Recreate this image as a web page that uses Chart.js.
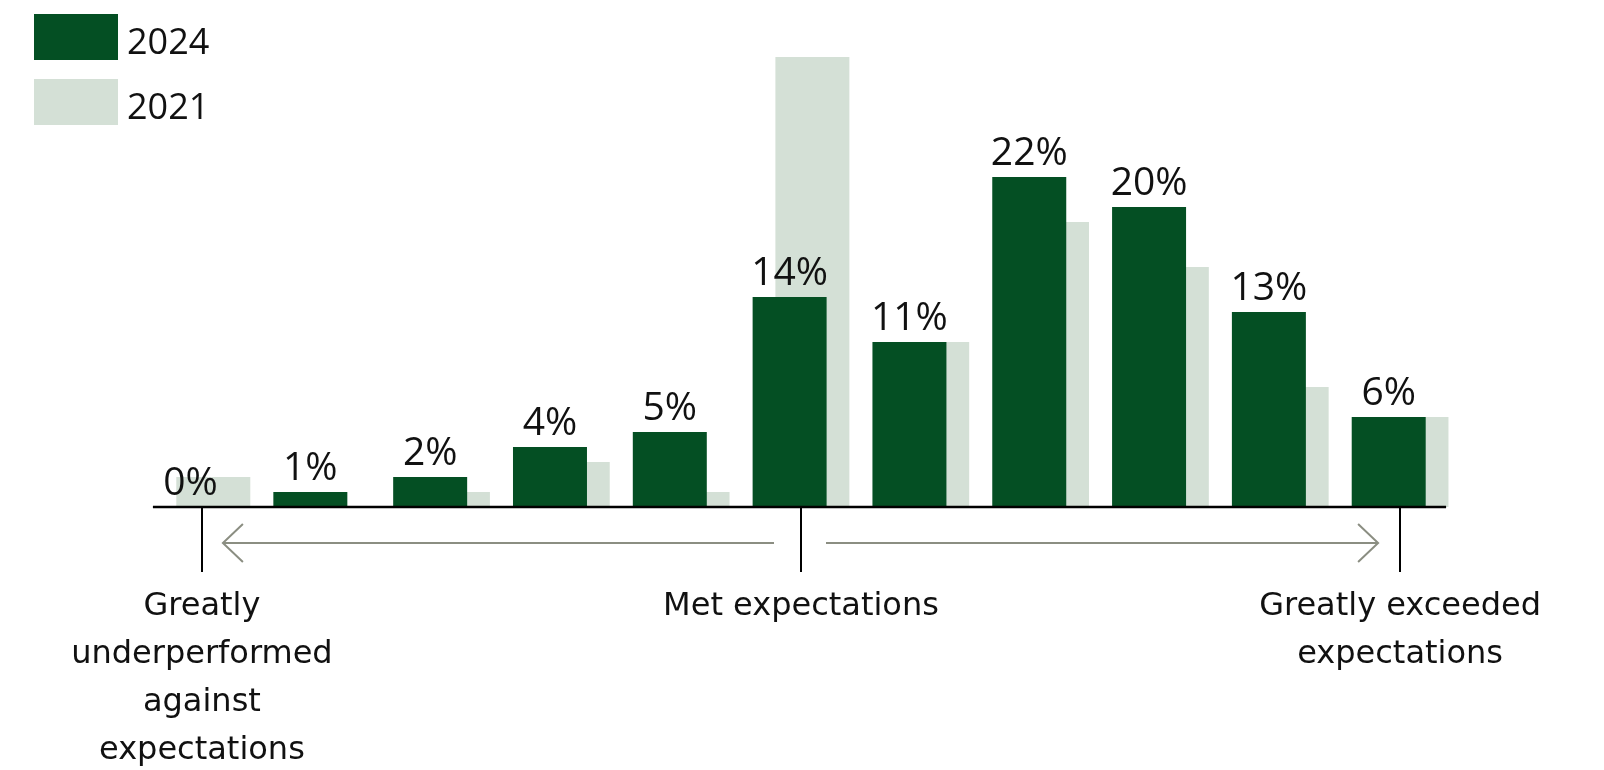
<!DOCTYPE html>
<html>
<head>
<meta charset="utf-8">
<script src="https://cdn.jsdelivr.net/npm/chart.js@4.4.1/dist/chart.umd.min.js"></script>
<style>
  html, body { margin: 0; padding: 0; background: #fff; }
</style>
</head>
<body>
<canvas id="chart" width="1604" height="770"></canvas>
<script>
// 11-point rating scale, from greatly underperformed to greatly exceeded
const scalePoints = ['1', '2', '3', '4', '5', '6', '7', '8', '9', '10', '11'];
const share2024 = [0, 1, 2, 4, 5, 14, 11, 22, 20, 13, 6];
const share2021 = [2, 0, 1, 3, 1, 30, 11, 19, 16, 8, 6];
const tickLabels = [
  ['Greatly', 'underperformed', 'against', 'expectations'],
  '', '', '', '',
  'Met expectations',
  '', '', '', '',
  ['Greatly exceeded', 'expectations']
];
const markedTicks = [0, 5, 10];

const FONT = '"Open Sans", "Noto Sans", sans-serif';
const AXIS_FONT = '"DejaVu Sans", "Open Sans", sans-serif';
const DARK = '#044f23';
const LIGHT = '#d4e0d6';
const ARROW = '#8b8e82';

// value labels over the 2024 bars
const valueLabels = {
  id: 'valueLabels',
  afterDatasetsDraw(chart) {
    const ctx = chart.ctx;
    const meta = chart.getDatasetMeta(0);
    ctx.save();
    ctx.font = '400 39px ' + FONT;
    ctx.fillStyle = '#111';
    ctx.textAlign = 'center';
    ctx.textBaseline = 'alphabetic';
    meta.data.forEach((bar, i) => {
      ctx.fillText(chart.data.datasets[0].data[i] + '%', bar.x, bar.y - 12);
    });
    ctx.restore();
  }
};

// baseline, scale arrows and the stacked legend in the corner
const decorations = {
  id: 'decorations',
  afterDraw(chart) {
    const ctx = chart.ctx;
    const x = chart.scales.x;
    const base = chart.chartArea.bottom;
    const p0 = x.getPixelForValue(0);
    const p5 = x.getPixelForValue(5);
    const p10 = x.getPixelForValue(10);
    ctx.save();

    ctx.strokeStyle = '#000';
    ctx.lineWidth = 2.5;
    ctx.beginPath();
    ctx.moveTo(p0 - 49, base);
    ctx.lineTo(p10 + 46, base);
    ctx.stroke();

    const ay = base + 36;
    ctx.strokeStyle = ARROW;
    ctx.lineWidth = 2;
    ctx.beginPath();
    ctx.moveTo(p5 - 27, ay);
    ctx.lineTo(p0 + 21, ay);
    ctx.moveTo(p0 + 41, ay - 19);
    ctx.lineTo(p0 + 21, ay);
    ctx.lineTo(p0 + 41, ay + 19);
    ctx.moveTo(p5 + 25, ay);
    ctx.lineTo(p10 - 22, ay);
    ctx.moveTo(p10 - 42, ay - 19);
    ctx.lineTo(p10 - 22, ay);
    ctx.lineTo(p10 - 42, ay + 19);
    ctx.stroke();

    ctx.font = '400 36px ' + FONT;
    ctx.textBaseline = 'alphabetic';
    ctx.textAlign = 'left';
    chart.data.datasets.forEach((ds, i) => {
      const top = 14 + i * 65;
      ctx.fillStyle = ds.backgroundColor;
      ctx.fillRect(34, top, 84, 46);
      ctx.fillStyle = '#111';
      ctx.fillText(ds.label, 127, top + 40);
    });
    ctx.restore();
  }
};

new Chart(document.getElementById('chart'), {
  type: 'bar',
  data: {
    labels: scalePoints,
    datasets: [
      { label: '2024', data: share2024, backgroundColor: DARK },
      { label: '2021', data: share2021, backgroundColor: LIGHT }
    ]
  },
  options: {
    responsive: false,
    animation: false,
    datasets: {
      bar: { categoryPercentage: 0.38, barPercentage: 3.25 }
    },
    layout: { padding: { left: 142, right: 144, top: 27, bottom: 0 } },
    plugins: {
      legend: { display: false },
      tooltip: { enabled: false }
    },
    scales: {
      x: {
        offset: true,
        border: { display: false },
        grid: {
          offset: false,
          drawOnChartArea: false,
          tickLength: 65,
          lineWidth: 2,
          color: c => markedTicks.includes(c.index) ? '#000' : 'rgba(0,0,0,0)'
        },
        ticks: {
          autoSkip: false,
          maxRotation: 0,
          minRotation: 0,
          padding: 11,
          color: '#111',
          font: { family: AXIS_FONT, size: 32, lineHeight: '48px' },
          callback: (v, i) => tickLabels[i]
        },
        afterFit: s => { s.height = 263; }
      },
      y: { display: false, min: 0, max: 32 }
    }
  },
  plugins: [valueLabels, decorations]
});
</script>
</body>
</html>
